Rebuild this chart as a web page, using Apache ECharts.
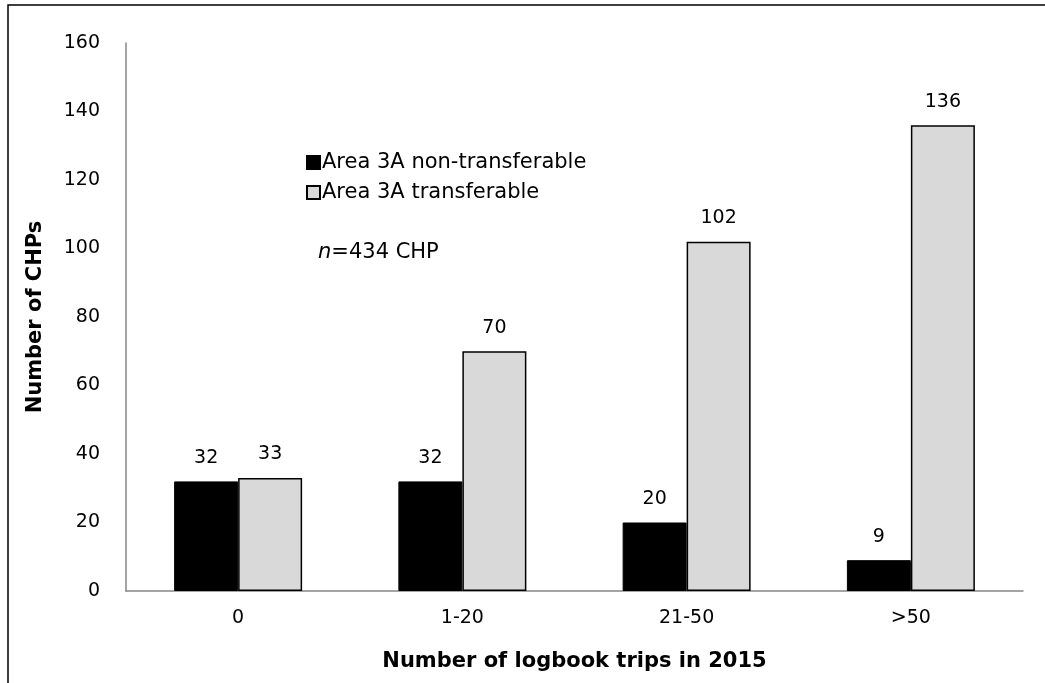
<!DOCTYPE html>
<html style="height: 100%">
<head>
    <meta charset="utf-8">
</head>
<body style="height: 100%; margin: 0; background: #fff">
<div id="container" style="width: 1045px; height: 683px;"></div>
<script type="text/javascript" src="https://cdn.jsdelivr.net/npm/echarts@6/dist/echarts.min.js"></script>
<script type="text/javascript">
    var categories = ['0', '1-20', '21-50', '>50'];
    var nonTransferable = [32, 32, 20, 9];
    var transferable = [33, 70, 102, 136];
    var seriesNames = ['Area 3A non-transferable', 'Area 3A transferable'];

    var dom = document.getElementById("container");
    var myChart = echarts.init(dom);
    var font = 'DejaVu Sans';

    var labelStyle = {
        show: true,
        position: 'top',
        distance: 14,
        fontSize: 19,
        fontFamily: font,
        color: '#000'
    };

    var option = {
        animation: false,
        textStyle: { fontFamily: font },
        grid: { left: 126, top: 43, right: 22, bottom: 92 },
        legend: {
            left: 301,
            top: 147,
            orient: 'vertical',
            itemWidth: 13,
            itemHeight: 13,
            itemGap: 9,
            icon: 'rect',
            textStyle: { fontSize: 21, fontFamily: font, color: '#000', padding: [0, 0, 0, -3] },
            data: seriesNames
        },
        graphic: [
            {
                type: 'rect',
                shape: { x: 8, y: 5, width: 1100, height: 800 },
                style: { fill: 'none', stroke: '#000', lineWidth: 1.5 },
                silent: true
            },
            {
                type: 'text',
                left: 318,
                top: 242,
                style: {
                    text: '{i|n}=434 CHP',
                    font: '21px "DejaVu Sans"',
                    fill: '#000',
                    rich: { i: { fontStyle: 'italic', fontSize: 21, fontFamily: font } }
                }
            }
        ],
        xAxis: {
            type: 'category',
            data: categories,
            name: 'Number of logbook trips in 2015',
            nameLocation: 'middle',
            nameGap: 60,
            nameTextStyle: { fontSize: 21, fontWeight: 'bold', color: '#000', fontFamily: font },
            axisLine: { lineStyle: { color: '#868686', width: 1.5 } },
            axisTick: { show: false },
            axisLabel: { fontSize: 19, color: '#000', margin: 18, fontFamily: font }
        },
        yAxis: {
            type: 'value',
            min: 0,
            max: 160,
            interval: 20,
            name: 'Number of CHPs',
            nameLocation: 'middle',
            nameGap: 80,
            nameTextStyle: { fontSize: 21, fontWeight: 'bold', color: '#000', fontFamily: font },
            axisLine: { show: true, lineStyle: { color: '#868686', width: 1.5 } },
            axisTick: { show: false },
            splitLine: { show: false },
            axisLabel: { fontSize: 19, color: '#000', margin: 26, fontFamily: font }
        },
        series: [
            {
                name: seriesNames[0],
                type: 'bar',
                data: nonTransferable,
                barWidth: 64,
                barGap: '0%',
                itemStyle: { color: '#000', borderColor: '#000', borderWidth: 1 },
                label: labelStyle
            },
            {
                name: seriesNames[1],
                type: 'bar',
                data: transferable,
                barWidth: 64,
                barGap: '0%',
                itemStyle: { color: '#d9d9d9', borderColor: '#000', borderWidth: 1.5 },
                label: labelStyle
            }
        ]
    };

    myChart.setOption(option);
</script>
</body>
</html>
